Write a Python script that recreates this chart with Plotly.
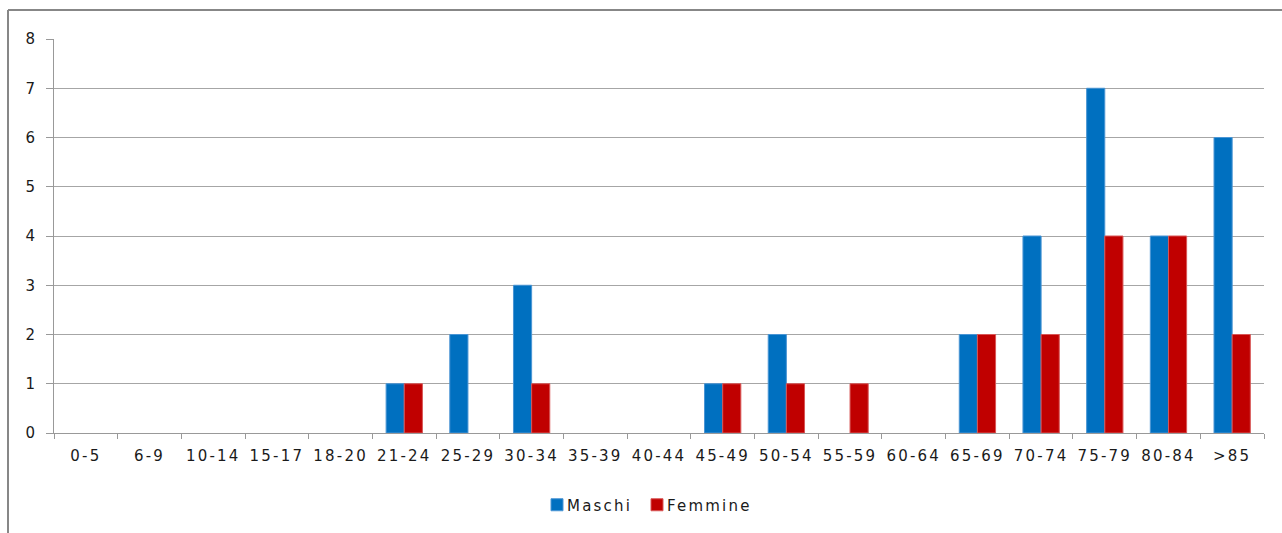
import plotly.graph_objects as go

categories = ["0-5", "6-9", "10-14", "15-17", "18-20", "21-24", "25-29", "30-34", "35-39",
              "40-44", "45-49", "50-54", "55-59", "60-64", "65-69", "70-74", "75-79", "80-84", ">85"]
maschi = [0, 0, 0, 0, 0, 1, 2, 3, 0, 0, 1, 2, 0, 0, 2, 4, 7, 4, 6]
femmine = [0, 0, 0, 0, 0, 1, 0, 1, 0, 0, 1, 1, 1, 0, 2, 2, 4, 4, 2]

FONT = dict(family="DejaVu Sans, Verdana, sans-serif", size=15, color="#1a1a1a")


def nz(vals):
    # hide zero-height bars so their outline is not drawn
    return [v if v != 0 else None for v in vals]


fig = go.Figure()
fig.add_trace(go.Bar(x=categories, y=nz(maschi), name="Maschi",
                     marker=dict(color="#0070C0", line=dict(color="#4a95d4", width=1))))
fig.add_trace(go.Bar(x=categories, y=nz(femmine), name="Femmine",
                     marker=dict(color="#C00000", line=dict(color="#d85656", width=1))))

W, H = 1282, 533
L, R, T, B = 54, 18, 39, 100
pw, ph = W - L - R, H - T - B


def px(x):
    return (x - L) / pw


def py(y):
    return (H - B - y) / ph


fig.update_layout(
    width=W, height=H,
    margin=dict(l=L, r=R, t=T, b=B, pad=0, autoexpand=False),
    paper_bgcolor="white", plot_bgcolor="white",
    barmode="group", bargap=0.43, bargroupgap=0,
    font=FONT,
    showlegend=True,
    legend=dict(orientation="h", x=px(537), xanchor="left", y=py(505), yanchor="middle",
                font=FONT, itemwidth=30, entrywidth=55, traceorder="normal",
                borderwidth=0, bgcolor="rgba(0,0,0,0)"),
    shapes=[
        dict(type="line", xref="paper", yref="paper", x0=px(8), x1=px(1300), y0=py(10), y1=py(10),
             line=dict(color="#878787", width=2)),
        dict(type="line", xref="paper", yref="paper", x0=px(8), x1=px(8), y0=py(10), y1=py(560),
             line=dict(color="#878787", width=2)),
    ],
)

fig.update_xaxes(
    type="category", tickson="boundaries", ticks="outside", ticklen=5, tickcolor="#999999",
    showline=True, linecolor="#999999", linewidth=1, showgrid=False,
    tickfont=FONT, ticklabelstandoff=9, tickangle=0,
)
fig.update_yaxes(
    range=[0, 8], dtick=1, ticks="outside", ticklen=7, tickcolor="#999999",
    showline=True, linecolor="#999999", linewidth=1,
    showgrid=True, gridcolor="#a6a6a6", gridwidth=1, zeroline=False,
    tickfont=FONT, ticklabelstandoff=8,
)

post = """
document.body.style.margin = '0';
document.body.style.padding = '0';
document.querySelectorAll('.xtick text, .legendtext').forEach(function(t){
  t.style.letterSpacing = '2.2px';
});
document.querySelectorAll('.legendtext').forEach(function(t){
  t.setAttribute('x', '30');
});
document.querySelectorAll('.legend [clip-path]').forEach(function(e){
  e.removeAttribute('clip-path');
});
"""

fig.write_html("out.html", post_script=post, config={"displayModeBar": False})
